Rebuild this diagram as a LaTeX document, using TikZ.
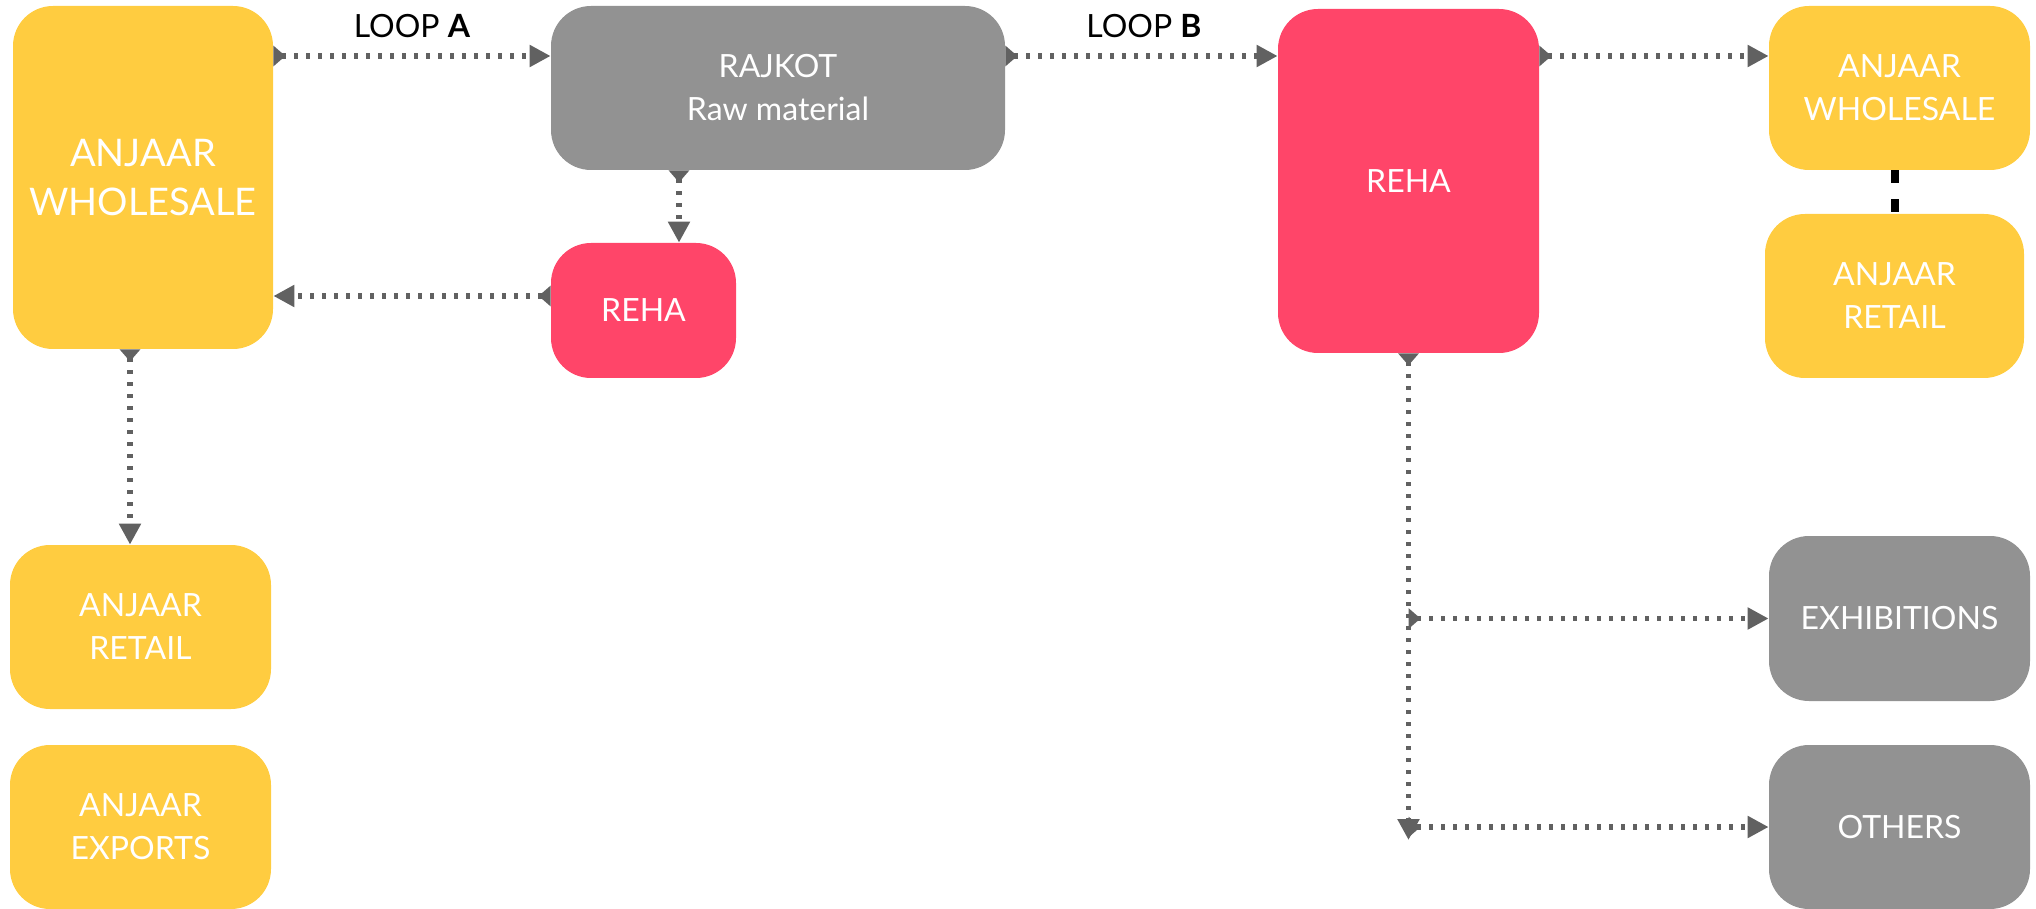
\documentclass[tikz,border=0pt]{standalone}
\usepackage{fontspec}
\setmainfont{Lato}
\usetikzlibrary{arrows.meta}
\definecolor{cyel}{HTML}{FFCC40}
\definecolor{cred}{HTML}{FF4569}
\definecolor{cbox}{HTML}{929292}
\definecolor{cline}{HTML}{616161}
\begin{document}
\begin{tikzpicture}[x=0.5pt,y=-0.5pt,
  box/.style={rounded corners=20pt, inner sep=0pt, text=white, align=center,
    font=\fontsize{16}{21.5}\selectfont},
  ybox/.style={box, fill=cyel},
  rbox/.style={box, fill=cred},
  gbox/.style={box, fill=cbox},
  flow/.style={draw=cline, line width=2.6pt, dash pattern=on 2pt off 4pt,
    {Triangle[reversed,length=6pt,width=10pt]}-{Triangle[length=10.5pt,width=10.5pt]}},
  lbl/.style={font=\fontsize{16}{19}\selectfont, text=black, inner sep=0pt}
]
\useasboundingbox (0,0) rectangle (2036,909);

\node[ybox, minimum width=130pt, minimum height=171.5pt,
  font=\fontsize{19}{24.7}\selectfont] (lw) at (143,177.5) {ANJAAR\\WHOLESALE};
\node[gbox, minimum width=227pt, minimum height=82pt] (raj) at (778,88) {RAJKOT\\Raw material};
\node[rbox, minimum width=92.5pt, minimum height=67.5pt] (rs) at (643.5,310.5) {REHA};
\node[rbox, minimum width=130.5pt, minimum height=172pt] (rb) at (1408.5,181) {REHA};
\node[ybox, minimum width=130.5pt, minimum height=82pt] (rw) at (1899.5,88) {ANJAAR\\WHOLESALE};
\node[ybox, minimum width=129.5pt, minimum height=82pt] (rr) at (1894.5,296) {ANJAAR\\RETAIL};
\node[ybox, minimum width=130.5pt, minimum height=82pt] (lr) at (140.5,627) {ANJAAR\\RETAIL};
\node[ybox, minimum width=130.5pt, minimum height=82pt] (le) at (140.5,827) {ANJAAR\\EXPORTS};
\node[gbox, minimum width=130.5pt, minimum height=82.5pt] (ex) at (1899.5,618.5) {EXHIBITIONS};
\node[gbox, minimum width=130.5pt, minimum height=82pt] (ot) at (1899.5,827) {OTHERS};

\node[lbl] (la) at (412,26) {LOOP \textbf{A}};
\node[lbl] (lb) at (1144,26) {LOOP \textbf{B}};

% loop A / loop B
\coordinate (a1) at ([yshift=16pt]raj.west);
\coordinate (b1) at ([yshift=16pt]raj.east);
\coordinate (b2) at ([yshift=16pt]rw.west);
\draw[flow] (a1 -| lw.east) -- (a1);
\draw[flow] (b1) -- (b1 -| rb.west);
\draw[flow] (b2 -| rb.east) -- (b2);

% rajkot -> small reha -> wholesale
\coordinate (r1) at ([xshift=17.75pt]rs.north);
\draw[flow] (r1 |- raj.south) -- (r1);
\coordinate (r2) at ([yshift=7.25pt]rs.west);
\draw[flow] (r2) -- (r2 -| lw.east);

% wholesale -> retail
\coordinate (l1) at ([xshift=-6.5pt]lw.south);
\draw[flow] (l1) -- (l1 |- lr.north);

% big reha -> exhibitions / others
\coordinate (c1) at (rb.south |- ex.west);
\coordinate (c2) at (rb.south |- ot.west);
\draw[flow] (rb.south) -- ([yshift=-6.5pt]c2);
\draw[flow] (c1) -- (ex.west);
\draw[flow] (c2) -- (ot.west);

% wholesale -- retail (right)
\draw[black, line width=4pt, dash pattern=on 6.5pt off 8pt] (rr.north |- rw.south) -- (rr.north);
\end{tikzpicture}
\end{document}
